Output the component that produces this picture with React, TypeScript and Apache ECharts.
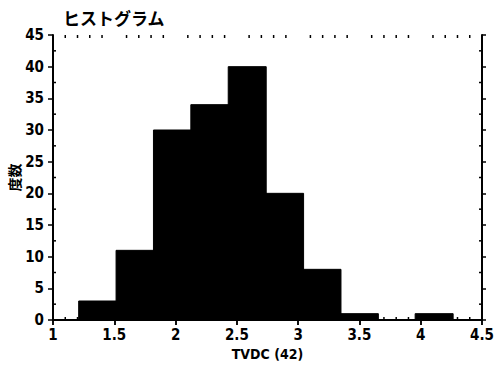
import React, { useEffect, useRef } from "react";
import * as echarts from "echarts";

const binStarts = [1.212, 1.517, 1.822, 2.127, 2.432, 2.737, 3.042, 3.347, 3.652, 3.957];
const binWidth = 0.305;
const counts = [3, 11, 30, 34, 40, 20, 8, 1, 0, 1];
const xTicks = [1, 1.5, 2, 2.5, 3, 3.5, 4, 4.5];
const yTicks = [0, 5, 10, 15, 20, 25, 30, 35, 40, 45];
const xMinorStep = 0.1;
const yMinorStep = 2.5;

const numFont = "'Liberation Sans Narrow', 'DejaVu Sans Condensed', 'Liberation Sans', sans-serif";
const jpFont = "'Noto Sans CJK JP', sans-serif";

export default function App() {
  const ref = useRef<HTMLDivElement>(null);
  useEffect(() => {
    document.body.style.margin = "0";
    const chart = echarts.init(ref.current!, null, { renderer: "svg" });
    const data = binStarts.map((s, i) => [s, s + binWidth, counts[i]]);
    const xMin = xTicks[0];
    const xMax = xTicks[xTicks.length - 1];
    const yMin = yTicks[0];
    const yMax = yTicks[yTicks.length - 1];
    const xMinor: number[][] = [];
    for (let k = 1; xMin + k * xMinorStep < xMax - 1e-9; k++) {
      const v = +(xMin + k * xMinorStep).toFixed(3);
      if (Math.abs(v * 2 - Math.round(v * 2)) > 1e-6) xMinor.push([v]);
    }
    const yMinor: number[][] = [];
    for (let k = 1; yMin + k * yMinorStep < yMax; k++) {
      const v = yMin + k * yMinorStep;
      if (v % 5 !== 0) yMinor.push([v]);
    }
    const axisLine = { show: true, lineStyle: { color: "#000", width: 2 } };
    const tickStyle = { stroke: "#000", lineWidth: 1.5 };
    chart.setOption({
      animation: false,
      backgroundColor: "#fff",
      title: {
        text: "ヒストグラム",
        left: 58,
        top: 4,
        textStyle: { fontFamily: jpFont, fontWeight: "bold", fontSize: 17, color: "#000" },
      },
      grid: { left: 53, right: 19, top: 35, bottom: 54, outerBoundsMode: "none", containLabel: false },
      xAxis: [
        {
          type: "value",
          min: xMin,
          max: xMax,
          interval: 0.5,
          name: "TVDC (42)",
          nameLocation: "middle",
          nameGap: 27,
          nameMoveOverlap: false,
          nameTextStyle: { fontFamily: numFont, fontWeight: "bold", fontSize: 14, color: "#000" },
          axisLine,
          axisTick: { show: true, length: 5, lineStyle: { color: "#000", width: 1.5 } },
          axisLabel: {
            fontFamily: numFont,
            fontWeight: "bold",
            fontSize: 15,
            color: "#000",
            margin: 7,
            formatter: (v: number) => String(v),
          },
          splitLine: { show: false },
        },
        {
          type: "value",
          position: "top",
          min: xMin,
          max: xMax,
          interval: 0.5,
          axisLine,
          axisTick: { show: true, length: 5, inside: true, lineStyle: { color: "#000", width: 1.5 } },
          axisLabel: { show: false },
          splitLine: { show: false },
        },
      ],
      yAxis: [
        {
          type: "value",
          min: yMin,
          max: yMax,
          interval: 5,
          name: "度数",
          nameLocation: "middle",
          nameGap: 32,
          nameMoveOverlap: false,
          nameRotate: 90,
          nameTextStyle: { fontFamily: jpFont, fontWeight: "bold", fontSize: 14, color: "#000" },
          axisLine,
          axisTick: { show: true, length: 5, lineStyle: { color: "#000", width: 1.5 } },
          axisLabel: { fontFamily: numFont, fontWeight: "bold", fontSize: 15, color: "#000", margin: 9 },
          splitLine: { show: false },
        },
        {
          type: "value",
          position: "right",
          min: yMin,
          max: yMax,
          interval: 5,
          axisLine,
          axisTick: { show: true, length: 4, lineStyle: { color: "#000", width: 1.5 } },
          axisLabel: { show: false },
          splitLine: { show: false },
        },
      ],
      series: [
        {
          type: "custom",
          xAxisIndex: 0,
          yAxisIndex: 0,
          data,
          renderItem: (params: any, api: any) => {
            const x0 = api.value(0);
            const x1 = api.value(1);
            const c = api.value(2);
            const p0 = api.coord([x0, c]);
            const p1 = api.coord([x1, 0]);
            return {
              type: "rect",
              shape: { x: p0[0] - 0.3, y: p0[1], width: p1[0] - p0[0] + 0.6, height: p1[1] - p0[1] },
              style: { fill: "#000", stroke: "#000", lineWidth: 1 },
            };
          },
          encode: { x: [0, 1], y: 2 },
          z: 1,
        },
        {
          type: "custom",
          xAxisIndex: 0,
          yAxisIndex: 0,
          data: xMinor,
          clip: false,
          silent: true,
          renderItem: (params: any, api: any) => {
            const v = api.value(0);
            const b = api.coord([v, yMin]);
            const t = api.coord([v, yMax]);
            return {
              type: "group",
              children: [
                { type: "line", shape: { x1: b[0], y1: b[1], x2: b[0], y2: b[1] - 3 }, style: tickStyle },
                { type: "line", shape: { x1: t[0], y1: t[1], x2: t[0], y2: t[1] + 3 }, style: tickStyle },
              ],
            };
          },
          encode: { x: 0 },
          z: 3,
        },
        {
          type: "custom",
          xAxisIndex: 0,
          yAxisIndex: 0,
          data: yMinor,
          clip: false,
          silent: true,
          renderItem: (params: any, api: any) => {
            const v = api.value(0);
            const l = api.coord([xMin, v]);
            const r = api.coord([xMax, v]);
            return {
              type: "group",
              children: [
                { type: "line", shape: { x1: l[0], y1: l[1], x2: l[0] + 3, y2: l[1] }, style: tickStyle },
                { type: "line", shape: { x1: r[0], y1: r[1], x2: r[0] - 3, y2: r[1] }, style: tickStyle },
              ],
            };
          },
          encode: { y: 0 },
          z: 3,
        },
      ],
    });
    return () => chart.dispose();
  }, []);
  return <div ref={ref} style={{ width: 501, height: 374, position: "absolute", left: 0, top: 0 }} />;
}
